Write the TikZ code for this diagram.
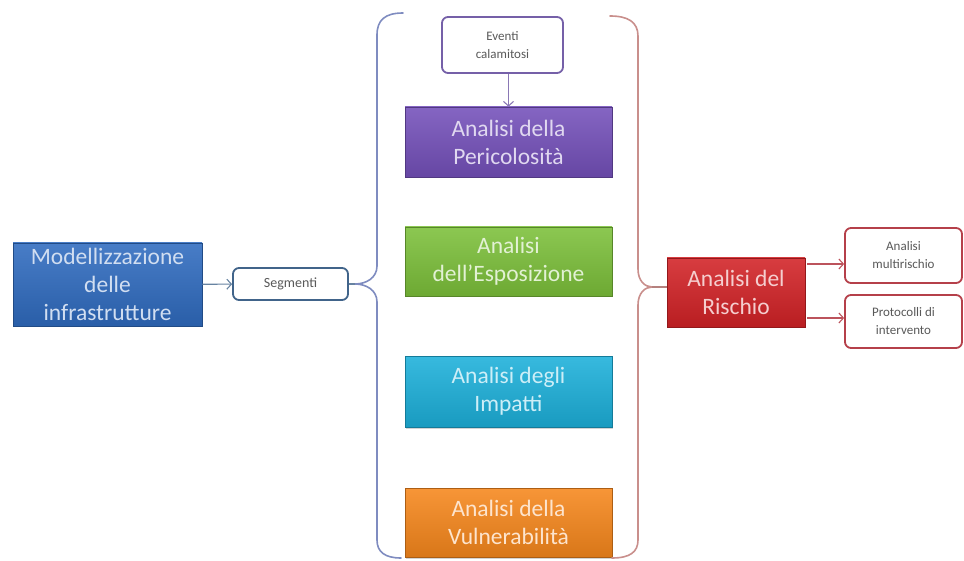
\documentclass[tikz,border=0pt]{standalone}
\usepackage{fontspec}
\setmainfont{Carlito}
\usetikzlibrary{arrows.meta,shadows}

\definecolor{bluebox}{HTML}{2F6BBF}
\definecolor{purplebox}{HTML}{7450BA}
\definecolor{greenbox}{HTML}{7CC03A}
\definecolor{cyanbox}{HTML}{1CB0DA}
\definecolor{orangebox}{HTML}{F6871C}
\definecolor{redbox}{HTML}{D22226}
\definecolor{slateline}{HTML}{41648A}
\definecolor{braceblue}{HTML}{7F8CC0}
\definecolor{bracered}{HTML}{C98F8C}
\definecolor{eventline}{HTML}{7560A8}
\definecolor{outline}{HTML}{B5404A}

\tikzset{
  bigbox/.style={rectangle, inner sep=0pt, align=center,
    font=\fontsize{23.5}{28}\selectfont,
    drop shadow={opacity=0.35, shadow xshift=1.2pt, shadow yshift=-1.5pt}},
  colbox/.style={bigbox, top color=#1!88!white, bottom color=#1!88!black,
    draw=#1!70!black, line width=0.6pt, text=white!78!#1},
  smallbox/.style={rectangle, rounded corners=6pt, fill=white, inner sep=0pt,
    align=center, line width=1.8pt, text=black!65,
    font=\fontsize{13}{18}\selectfont},
  arr/.style={line width=1.1pt, -{Straight Barb[length=4.5pt,width=10pt]}},
  brace/.style={line width=1.6pt, line cap=round}
}

\begin{document}
\begin{tikzpicture}[x=1pt,y=-1pt]
  \useasboundingbox (0,0) rectangle (964,561);

  % left column
  \node[colbox=bluebox, minimum width=189, minimum height=83] (model)
    at (107.5,284.5) {Modellizzazione\\delle\\infrastrutture};
  \node[smallbox, draw=slateline, minimum width=115, minimum height=32,
    font=\fontsize{14}{16}\selectfont] (seg) at (290.5,284) {Segmenti};
  \draw[arr, color=slateline!80] (model) -- (seg);

  % analysis steps
  \node[smallbox, draw=eventline, minimum width=121, minimum height=56]
    (event) at (502.5,45) {Eventi\\calamitosi};
  \node[colbox=purplebox, minimum width=207, minimum height=70] (peric)
    at (508.5,142) {Analisi della\\Pericolosità};
  \node[colbox=greenbox, minimum width=207, minimum height=69] (espo)
    at (508.5,261.5) {Analisi\\dell’Esposizione};
  \node[colbox=cyanbox, minimum width=207, minimum height=71] (imp)
    at (508.5,391.5) {Analisi degli\\Impatti};
  \node[colbox=orangebox, minimum width=207, minimum height=69] (vuln)
    at (508.5,522.5) {Analisi della\\Vulnerabilità};
  \draw[arr, color=eventline!85] (event.south -| peric.north) -- (peric.north);

  % braces around the steps
  \coordinate (ltip) at (355,284);
  \coordinate (rtip) at (652,287);
  \draw[brace, braceblue] (403,13) .. controls (385,13) and (377,20) .. (377,35)
    -- (377,266) .. controls (377,278) and (366,284) .. (ltip)
    .. controls (366,284) and (377,290) .. (377,302)
    -- (377,540) .. controls (377,552) and (385,558) .. (401,558);
  \draw[brace, bracered] (610,16) .. controls (628,16) and (638,22) .. (638,36)
    -- (638,269) .. controls (638,281) and (645,287) .. (rtip)
    .. controls (645,287) and (638,293) .. (638,305)
    -- (638,540) .. controls (638,552) and (630,558) .. (612,558);
  \draw[line width=1.1pt, slateline!80] (seg.east) -- (ltip);

  % risk analysis and outcomes
  \node[colbox=redbox, minimum width=138, minimum height=69] (risk)
    at (736,292.5) {Analisi del\\Rischio};
  \draw[line width=1.1pt, bracered!90!black] (rtip) -- (risk.west |- rtip);
  \node[smallbox, draw=outline, minimum width=117, minimum height=55]
    (multi) at (903.5,255.5) {Analisi\\multirischio};
  \node[smallbox, draw=outline, minimum width=117, minimum height=53]
    (proto) at (903.5,321.5) {Protocolli di\\intervento};
  \coordinate (r1) at (807,264);
  \coordinate (r2) at (807,318);
  \draw[arr, outline!90] (r1) -- (r1 -| multi.west);
  \draw[arr, outline!90] (r2) -- (r2 -| proto.west);
\end{tikzpicture}
\end{document}
